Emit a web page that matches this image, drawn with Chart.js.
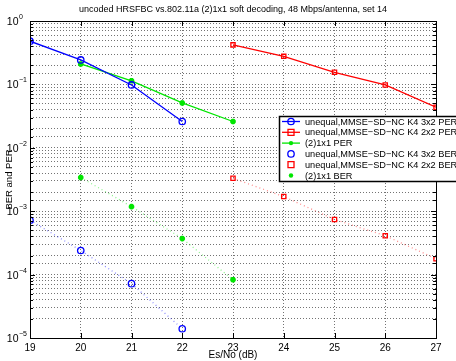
<!DOCTYPE html>
<html>
<head>
<meta charset="utf-8">
<script src="https://cdn.jsdelivr.net/npm/chart.js@4"></script>
<style>
  html, body { margin: 0; padding: 0; background: #fff; }
  #wrap { width: 456px; height: 361px; }
</style>
</head>
<body>
<div id="wrap"><canvas id="myChart" width="456" height="361"></canvas></div>
<script>
// values
const titleText = 'uncoded HRSFBC vs.802.11a (2)1x1 soft decoding, 48 Mbps/antenna, set 14';
const xTicks = [19, 20, 21, 22, 23, 24, 25, 26, 27];
// y tick labels are 10^e, e from -5 to 0
const yExponents = ['\u22125', '\u22124', '\u22123', '\u22122', '\u22121', '0'];

const x3x2 = [19, 20, 21, 22];
const x2x2 = [23, 24, 25, 26, 27];
const x1x1 = [20, 21, 22, 23];

const per3x2 = [0.48, 0.243, 0.098, 0.026];
const per2x2 = [0.42, 0.277, 0.155, 0.098, 0.0436];
const per1x1 = [0.21, 0.114, 0.051, 0.026];
const ber3x2 = [7.2e-4, 2.4e-4, 7.2e-5, 1.4e-5];
const ber2x2 = [3.3e-3, 1.7e-3, 7.4e-4, 4.1e-4, 1.78e-4];
const ber1x1 = [3.4e-3, 1.18e-3, 3.7e-4, 8.3e-5];

const names = [
  'unequal,MMSE\u2212SD\u2212NC K4 3x2 PER',
  'unequal,MMSE\u2212SD\u2212NC K4 2x2 PER',
  '(2)1x1 PER',
  'unequal,MMSE\u2212SD\u2212NC K4 3x2 BER',
  'unequal,MMSE\u2212SD\u2212NC K4 2x2 BER',
  '(2)1x1 BER'
];

const BLUE = 'rgb(0,0,255)';
const RED = 'rgb(255,0,0)';
const GREEN = 'rgb(0,230,0)';
const FONT = 'Liberation Sans, Arial, sans-serif';

function pts(xs, ys) {
  return xs.map((x, i) => ({ x: x, y: ys[i] }));
}

function series(label, xs, ys, color, style, dotted) {
  let d = {
    label: label,
    data: pts(xs, ys),
    borderColor: dotted ? color.replace('rgb', 'rgba').replace(')', ',0.45)') : color,
    backgroundColor: style === 'star' ? color : 'rgba(0,0,0,0)',
    pointBorderColor: color,
    pointBackgroundColor: style === 'star' ? color : 'rgba(0,0,0,0)',
    pointStyle: style,
    pointRadius: style === 'circle' ? 3.2 : 3,
    pointBorderWidth: style === 'star' ? 2 : 1.3,
    borderWidth: 1.3,
    borderDash: dotted ? [1, 3] : [],
    tension: 0
  };
  if (style === 'star') d.pointRadius = 2.8;
  return d;
}

// box around plot, inward ticks, y labels, title, legend
const framePlugin = {
  id: 'frame',
  afterDraw(chart) {
    let ctx = chart.ctx;
    let a = chart.chartArea;
    let xs = chart.scales.x, ys = chart.scales.y;
    ctx.save();
    ctx.strokeStyle = '#000';
    ctx.lineWidth = 1;
    ctx.strokeRect(a.left + 0.5, a.top + 0.5, a.right - a.left, a.bottom - a.top);
    // inward ticks
    ctx.beginPath();
    ys.ticks.forEach(t => {
      let y = Math.round(ys.getPixelForValue(t.value)) + 0.5;
      let len = t.major ? 5 : 3;
      ctx.moveTo(a.left, y); ctx.lineTo(a.left + len, y);
      ctx.moveTo(a.right, y); ctx.lineTo(a.right - len, y);
    });
    xs.ticks.forEach(t => {
      let x = Math.round(xs.getPixelForValue(t.value)) + 0.5;
      ctx.moveTo(x, a.bottom); ctx.lineTo(x, a.bottom - 5);
      ctx.moveTo(x, a.top); ctx.lineTo(x, a.top + 5);
    });
    ctx.stroke();

    // y labels as 10 with superscript
    ctx.fillStyle = '#000';
    ctx.textBaseline = 'alphabetic';
    yExponents.forEach((e, i) => {
      let y = ys.getPixelForValue(Math.pow(10, i - 5));
      ctx.font = '10.5px ' + FONT;
      ctx.textAlign = 'right';
      ctx.fillText('10', 18.5, y + 4);
      ctx.font = '7px ' + FONT;
      ctx.textAlign = 'left';
      ctx.fillText(e, 19, y - 2);
    });

    // title
    ctx.font = '9px ' + FONT;
    ctx.textAlign = 'center';
    ctx.textBaseline = 'middle';
    ctx.fillText(titleText, (a.left + a.right) / 2, 10);

    // legend
    let lx = 279, ly = 116, lw = 180, lh = 65;
    ctx.fillStyle = '#fff';
    ctx.fillRect(lx, ly, lw, lh);
    ctx.lineWidth = 1.5;
    ctx.strokeStyle = '#000';
    ctx.strokeRect(lx + 0.5, ly + 0.5, lw, lh);
    ctx.font = '9.2px ' + FONT;
    ctx.textAlign = 'left';
    chart.data.datasets.forEach((ds, i) => {
      let y = ly + 5.5 + i * 10.8;
      if (!ds.borderDash.length) {
        ctx.strokeStyle = ds.borderColor;
        ctx.lineWidth = 1.3;
        ctx.beginPath();
        ctx.moveTo(lx + 3, y); ctx.lineTo(lx + 21, y);
        ctx.stroke();
      }
      ctx.strokeStyle = ds.pointBorderColor;
      ctx.fillStyle = ds.pointBackgroundColor;
      ctx.lineWidth = ds.pointBorderWidth;
      ctx.beginPath();
      if (ds.pointStyle === 'circle') {
        ctx.arc(lx + 12, y, ds.pointRadius, 0, Math.PI * 2);
        ctx.stroke();
      } else if (ds.pointStyle === 'rect') {
        let r = ds.pointRadius;
        ctx.rect(lx + 12 - r, y - r, 2 * r, 2 * r);
        ctx.stroke();
      } else {
        ctx.arc(lx + 12, y, 2.2, 0, Math.PI * 2);
        ctx.fill();
      }
      ctx.fillStyle = '#000';
      ctx.fillText(names[i], lx + 26, y + 0.5);
    });
    ctx.restore();
  }
};

window.onload = function() {
  let ctx = document.getElementById('myChart').getContext('2d');
  let gridOpts = {
    color: 'rgba(0,0,0,0.55)',
    lineWidth: 1,
    drawTicks: false
  };
  new Chart(ctx, {
    type: 'line',
    data: {
      datasets: [
        series(names[0], x3x2, per3x2, BLUE, 'circle', false),
        series(names[1], x2x2, per2x2, RED, 'rect', false),
        series(names[2], x1x1, per1x1, GREEN, 'star', false),
        series(names[3], x3x2, ber3x2, BLUE, 'circle', true),
        series(names[4], x2x2, ber2x2, RED, 'rect', true),
        series(names[5], x1x1, ber1x1, GREEN, 'star', true)
      ]
    },
    plugins: [framePlugin],
    options: {
      responsive: false,
      animation: false,
      devicePixelRatio: 1,
      layout: { padding: { top: 21, right: 20, left: 0, bottom: 0 } },
      plugins: { legend: { display: false }, title: { display: false }, tooltip: { enabled: false } },
      scales: {
        x: {
          type: 'linear',
          min: xTicks[0],
          max: xTicks[xTicks.length - 1],
          afterBuildTicks: s => { s.ticks = xTicks.map(v => ({ value: v })); },
          afterFit: s => { s.height = 23; },
          grid: gridOpts,
          border: { display: false, dash: [1, 2] },
          ticks: { color: '#000', padding: 4, font: { family: FONT, size: 10 }, maxRotation: 0 },
          title: { display: true, text: 'Es/No (dB)', color: '#000', padding: { top: 0, bottom: 0 }, font: { family: FONT, size: 10 } }
        },
        y: {
          type: 'logarithmic',
          min: 1e-5,
          max: 1,
          afterFit: s => { s.width = 30; },
          grid: gridOpts,
          border: { display: false, dash: [1, 2] },
          ticks: {
            color: '#000',
            autoSkip: false,
            callback: () => ''
          },
          title: { display: true, text: 'BER and PER', color: '#000', padding: { top: 4, bottom: 0 }, font: { family: FONT, size: 9.5 } }
        }
      }
    }
  });
};
</script>
</body>
</html>
